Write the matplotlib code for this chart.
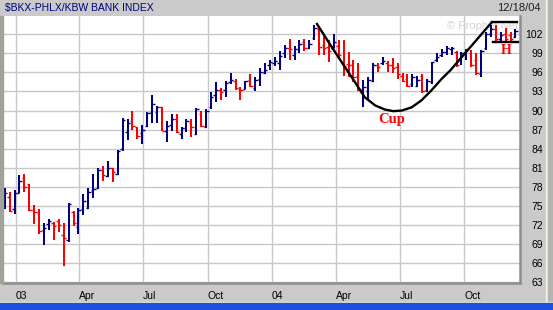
import matplotlib
matplotlib.use('Agg')
import matplotlib.pyplot as plt
import matplotlib.dates as mdates
import pandas as pd
from datetime import datetime

# ---------------- data (weekly OHLC, $BKX) ----------------
first_week = '2002-12-16'
highs = [77.9, 77.2, 77.5, 79.8, 80.0, 78.5, 75.2, 74.5, 72.4, 73.0,
         72.5, 73.0, 72.4, 75.4, 74.2, 74.7, 76.9, 77.8, 80.0, 80.9,
         81.3, 82.0, 81.0, 83.8, 88.9, 88.6, 90.0, 87.4, 87.7, 89.8,
         92.5, 90.7, 90.5, 88.3, 89.4, 89.4, 87.4, 88.7, 88.6, 90.4,
         90.0, 90.2, 92.9, 94.5, 93.6, 94.7, 95.9, 94.9, 93.7, 94.7,
         95.7, 95.2, 96.7, 97.5, 97.9, 98.4, 99.4, 100.3, 101.3, 100.2,
         101.1, 101.3, 101.1, 103.4, 102.9, 102.1, 101.1, 102.1, 101.1, 101.1,
         99.2, 97.9, 97.4, 94.8, 95.2, 97.5, 97.5, 98.4, 97.8, 98.2,
         97.5, 95.9, 95.8, 95.8, 95.5, 95.8, 95.0, 97.7, 99.0, 99.6,
         100.2, 100.0, 99.3, 99.2, 99.7, 99.5, 99.0, 99.5, 102.4, 103.5,
         103.4, 102.4, 102.9, 102.3, 102.8]
lows = [74.6, 74.1, 73.7, 77.0, 77.2, 74.2, 72.1, 70.6, 68.9, 71.2,
        69.6, 70.9, 65.6, 69.4, 71.8, 70.6, 73.6, 74.5, 76.2, 77.6,
        79.0, 79.5, 78.8, 79.9, 83.7, 85.3, 87.0, 85.5, 84.8, 87.4,
        88.1, 88.0, 86.8, 85.1, 86.8, 86.4, 85.5, 86.6, 85.8, 86.2,
        87.4, 87.2, 90.3, 91.3, 91.7, 92.1, 94.2, 93.3, 91.7, 93.4,
        93.7, 93.0, 93.8, 95.7, 96.4, 97.0, 96.4, 98.3, 97.9, 98.0,
        99.1, 99.3, 99.6, 101.1, 98.8, 98.7, 97.6, 99.8, 98.4, 95.5,
        95.3, 94.5, 93.0, 90.5, 91.6, 94.5, 96.1, 97.1, 96.1, 95.9,
        95.0, 94.5, 93.7, 93.7, 93.7, 92.7, 92.9, 94.2, 97.6, 98.4,
        98.7, 98.8, 96.9, 97.2, 97.9, 96.9, 95.6, 95.3, 99.5, 101.5,
        100.6, 100.8, 100.7, 100.9, 101.4]
opens = [75.4, 76.4, 74.5, 77.0, 79.4, 78.4, 74.4, 73.9, 71.3, 72.2,
         72.4, 72.6, 70.4, 69.7, 74.1, 71.7, 74.5, 74.7, 77.5, 77.9,
         80.7, 79.7, 80.9, 80.1, 83.9, 86.6, 88.4, 87.4, 86.4, 87.5,
         89.7, 89.7, 90.5, 86.8, 87.7, 88.6, 86.3, 87.2, 88.1, 86.3,
         89.5, 87.4, 90.6, 92.5, 93.3, 93.3, 94.5, 94.7, 93.4, 93.4,
         94.8, 93.6, 95.0, 95.9, 97.1, 97.4, 97.4, 99.1, 99.8, 98.8,
         99.7, 100.7, 99.8, 101.4, 102.8, 100.3, 100.0, 99.9, 100.1, 97.5,
         97.3, 97.1, 95.5, 93.2, 93.1, 94.7, 97.1, 97.5, 97.4, 97.1,
         96.9, 95.5, 95.0, 94.2, 93.9, 95.4, 93.2, 94.5, 97.9, 98.7,
         99.2, 99.6, 99.2, 98.2, 99.0, 99.0, 97.9, 95.8, 99.8, 102.0,
         102.8, 101.2, 102.0, 101.8, 101.5]
closes = [77.0, 74.2, 77.0, 79.0, 78.0, 74.4, 74.0, 71.0, 71.5, 72.6,
          71.8, 72.0, 70.0, 75.3, 72.4, 74.3, 75.8, 77.2, 77.7, 80.7,
          79.9, 81.0, 80.4, 83.6, 88.5, 88.0, 87.5, 86.0, 87.0, 89.6,
          91.0, 90.5, 86.8, 87.6, 88.6, 86.6, 87.2, 88.3, 87.4, 90.2,
          87.6, 90.0, 92.1, 93.3, 92.9, 94.4, 94.8, 93.6, 93.2, 94.6,
          93.8, 94.8, 96.0, 96.3, 97.6, 97.8, 98.6, 99.9, 99.6, 99.7,
          100.4, 99.8, 100.4, 102.9, 100.0, 99.8, 99.4, 100.8, 98.8, 97.0,
          97.1, 95.3, 93.4, 93.7, 94.8, 97.2, 96.8, 97.8, 97.1, 96.7,
          95.7, 94.7, 93.9, 95.2, 94.8, 93.0, 94.6, 97.6, 98.4, 99.2,
          99.9, 99.8, 97.2, 99.0, 99.6, 97.2, 95.9, 99.3, 102.0, 102.8,
          101.2, 101.8, 101.2, 101.2, 102.5]

quarter_ticks = ['2003-01-01', '2003-04-01', '2003-07-01', '2003-10-01',
                 '2004-01-01', '2004-04-01', '2004-07-01', '2004-10-01']
quarter_labels = ['03', 'Apr', 'Jul', 'Oct', '04', 'Apr', 'Jul', 'Oct']
y_ticks = list(range(63, 103, 3))

# cup & handle annotation (date, value)
cup_dates = ['2004-03-05', '2004-03-26', '2004-04-14', '2004-04-28', '2004-05-12',
             '2004-05-27', '2004-06-10', '2004-06-22', '2004-07-04', '2004-07-18',
             '2004-08-01', '2004-08-15', '2004-08-30', '2004-09-11', '2004-11-09']
cup_vals = [103.6, 100.0, 96.8, 94.5, 92.1, 90.8, 90.15, 89.9, 90.0, 90.5,
            91.6, 93.15, 95.0, 96.3, 103.85]
handle_top = (['2004-11-09', '2004-12-15'], 103.85)
handle_bot = (['2004-11-11', '2004-12-16'], 100.7)

title = r'\$BKX-PHLX/KBW BANK INDEX'
date_label = '12/18/04'

# ---------------- figure ----------------
W, H = 553, 310
GRAY = '#cacaca'
fig = plt.figure(figsize=(W / 100, H / 100), dpi=100, facecolor=GRAY)

def fx(px):
    return px / W

def fy(py):
    return 1 - py / H

top_px, bot_px, left_px, right_px = 15.7, 283.0, 3.0, 519.5
ax = fig.add_axes([fx(left_px), fy(bot_px), fx(right_px - left_px), (bot_px - top_px) / H])
ax.set_facecolor('white')

dates = pd.date_range(first_week, periods=len(highs), freq='7D')
xs = mdates.date2num(dates)
cols = ['#ff0000' if c < o else '#000080' for o, c in zip(opens, closes)]

tick_len = 3.5  # days
ax.vlines(xs, lows, highs, colors=cols, lw=1.45, zorder=3)
ax.hlines(opens, xs - tick_len, xs, colors=cols, lw=1.0, zorder=3)
ax.hlines(closes, xs, xs + tick_len, colors=cols, lw=1.0, zorder=3)

# cup and handle
cd = mdates.date2num(pd.to_datetime(cup_dates))
ax.plot(cd, cup_vals, color='black', lw=1.7, zorder=5, solid_joinstyle='round')
for seg in (handle_top, handle_bot):
    d = mdates.date2num(pd.to_datetime(seg[0]))
    ax.plot(d, [seg[1], seg[1]], color='black', lw=1.7, zorder=5)

ax.text(mdates.date2num(pd.Timestamp('2004-06-19')), 88.1, 'Cup', color='#ff0000',
        fontsize=10.5, fontweight='bold', family='Liberation Serif', ha='center',
        va='baseline', zorder=6)
ax.text(mdates.date2num(pd.Timestamp('2004-11-29')), 99.5, 'H', color='#ff0000',
        fontsize=10, fontweight='bold', family='Liberation Serif', ha='center',
        va='center', zorder=6)
ax.text(mdates.date2num(pd.Timestamp('2004-12-16')), 103.3, '\u00a9 Prophet.Net',
        color='#d4d4d4', fontsize=8, family='Liberation Sans', ha='right',
        va='center', zorder=1)

ax.set_xlim(mdates.date2num(datetime(2002, 12, 13, 12)),
            mdates.date2num(datetime(2004, 12, 18, 17)))
ax.set_ylim(62.9, 104.9)

ax.set_xticks(mdates.date2num(pd.to_datetime(quarter_ticks)))
ax.set_xticklabels(quarter_labels, ha='left', family='Liberation Sans')
ax.tick_params(axis='x', length=0, pad=5.5, labelsize=7.5, colors='black')

ax.yaxis.tick_right()
ax.set_yticks(y_ticks)
ax.set_yticklabels([str(v) for v in y_ticks], family='Liberation Sans')
ax.tick_params(axis='y', length=0, pad=17, labelsize=7.5, colors='black')
for lbl in ax.get_yticklabels():
    lbl.set_horizontalalignment('right')

ax.grid(True, color='#c8c8c8', lw=1.0)
ax.set_axisbelow(True)

for s in ('left', 'top'):
    ax.spines[s].set_visible(False)
for s in ('right', 'bottom'):
    ax.spines[s].set_color('#8e8e8e')
    ax.spines[s].set_linewidth(1.8)

# frame decorations
fig.patches.append(plt.Rectangle((0, fy(bot_px)), fx(3), fy(top_px) - fy(bot_px),
                                 transform=fig.transFigure, color='#a2a298', zorder=0))
fig.patches.append(plt.Rectangle((fx(546), fy(301.5)), fx(1.8), fy(0) - fy(301.5),
                                 transform=fig.transFigure, color='#f2f2d8', zorder=0))
fig.patches.append(plt.Rectangle((fx(547.8), fy(301.5)), fx(6), fy(0) - fy(301.5),
                                 transform=fig.transFigure, color='#b4b4b4', zorder=0))
fig.patches.append(plt.Rectangle((0, fy(303.3)), 1, fy(301.5) - fy(303.3),
                                 transform=fig.transFigure, color='#f2f2d8', zorder=0))
fig.patches.append(plt.Rectangle((0, 0), 1, fy(303.3),
                                 transform=fig.transFigure, color='#1e4fe0', zorder=0))

fig.text(fx(5), fy(8), title, color='#000080', fontsize=7.5, va='center',
         family='Liberation Sans')
fig.text(fx(540.7), fy(8), date_label, color='#202020', fontsize=8, va='center',
         ha='right', family='Liberation Sans')

fig.savefig('out.png', dpi=100, facecolor=GRAY)
